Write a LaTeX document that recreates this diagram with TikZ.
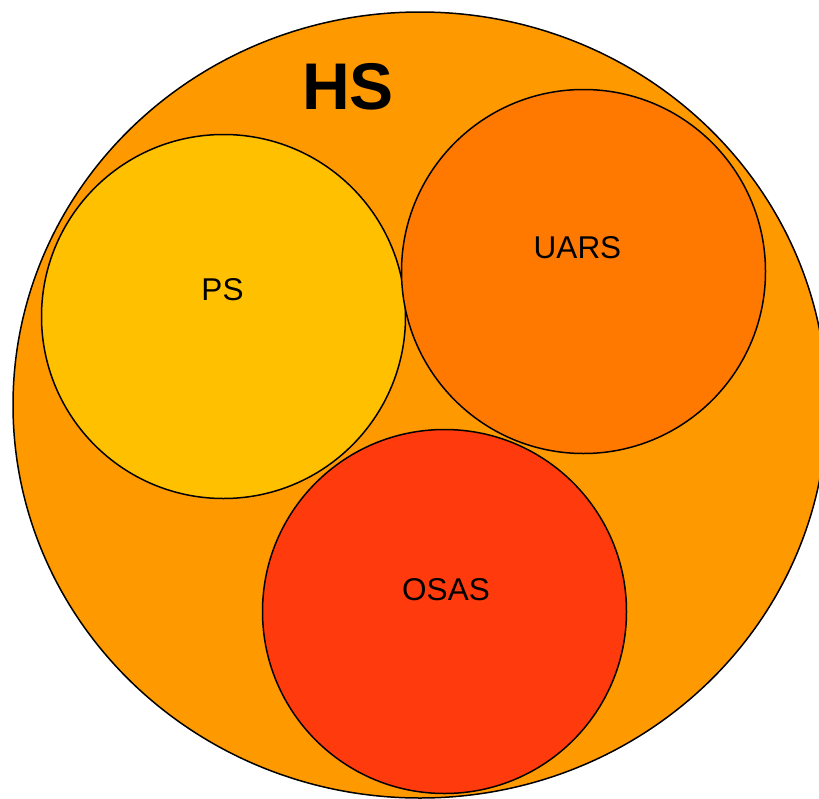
\documentclass[tikz,border=0pt]{standalone}
\usepackage{fontspec}
\setmainfont{Liberation Sans}
\usetikzlibrary{shapes.geometric}
\definecolor{hsorange}{HTML}{FF9900}
\definecolor{psyellow}{HTML}{FFC000}
\definecolor{uarsorange}{HTML}{FF7800}
\definecolor{osasred}{HTML}{FF3A0C}
\begin{document}
\begin{tikzpicture}[x=1pt, y=-1pt,
	set/.style={draw=black, line width=1.5pt, inner sep=0pt},
	bubble/.style={set, circle, minimum size=364pt},
	setlabel/.style={font=\fontsize{31.5}{36}\selectfont, inner sep=0pt}]

	\useasboundingbox (0,0) rectangle (819,798);
	\clip (0,0) rectangle (819,798);

	\node[set, ellipse, fill=hsorange, minimum width=814pt, minimum height=786pt] (hs) at (420, 405) {};
	\node[bubble, fill=psyellow] (ps) at (223.5, 316.5) {};
	\node[bubble, fill=uarsorange] (uars) at (583.5, 271.5) {};
	\node[bubble, fill=osasred] (osas) at (444.5, 611.5) {};

	\node[font=\fontsize{66}{70}\selectfont\bfseries, inner sep=0pt] (hslabel) at (348, 87) {HS};
	\node[setlabel] (pslabel) at (222.5, 290) {PS};
	\node[setlabel] (uarslabel) at (577.5, 248) {UARS};
	\node[setlabel] (osaslabel) at (446, 590) {OSAS};

\end{tikzpicture}
\end{document}
